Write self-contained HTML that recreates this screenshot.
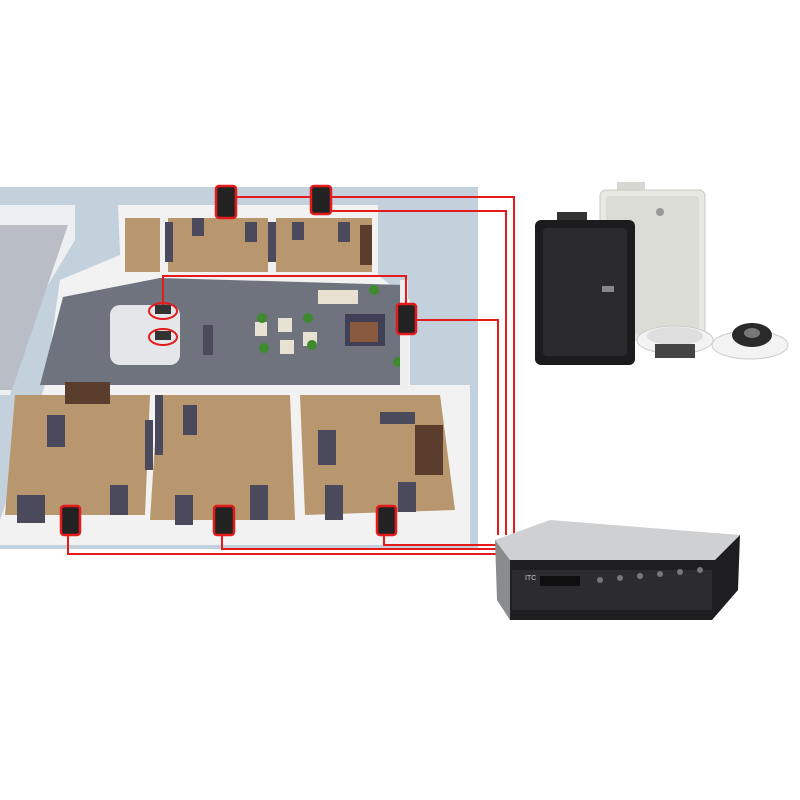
<!DOCTYPE html>
<html><head><meta charset="utf-8"><style>html,body{margin:0;padding:0;background:#fff}svg{display:block}</style></head>
<body>
<svg width="800" height="800" viewBox="0 0 800 800" xmlns="http://www.w3.org/2000/svg">
<rect width="800" height="800" fill="#fff"/>
<rect x="0" y="187" width="478" height="362" fill="#c3d1dc"/>
<polygon points="0,205 75,205 75,240 45,290 10,395 0,395" fill="#eeeff1"/>
<polygon points="0,225 68,225 12,390 0,390" fill="#b9bec6"/>
<polygon points="60,280 120,255 118,205 378,205 378,275 410,300 410,385 470,385 470,545 0,545 0,520 45,385" fill="#f2f2f2"/>
<polygon points="125,218 372,218 372,272 125,272" fill="#b8976f"/>
<rect x="160" y="218" width="8" height="54" fill="#f0f0f0"/>
<rect x="268" y="218" width="8" height="54" fill="#f0f0f0"/>
<polygon points="63,297 160,278 405,285 405,385 40,385" fill="#6f737e"/>
<polygon points="15,395 150,395 145,515 5,515" fill="#b8976f"/>
<polygon points="158,395 290,395 295,520 150,520" fill="#b8976f"/>
<polygon points="300,395 440,395 455,510 305,515" fill="#b8976f"/>
<g fill="#4b4a5c">
<rect x="65" y="382" width="45" height="22" fill="#5a3d2c"/>
<rect x="47" y="415" width="18" height="32"/><rect x="17" y="495" width="28" height="28"/><rect x="110" y="485" width="18" height="30"/>
<rect x="183" y="405" width="14" height="30"/><rect x="175" y="495" width="18" height="30"/><rect x="250" y="485" width="18" height="35"/>
<rect x="318" y="430" width="18" height="35"/><rect x="325" y="485" width="18" height="35"/><rect x="398" y="482" width="18" height="30"/>
<rect x="380" y="412" width="35" height="12"/><rect x="415" y="425" width="28" height="50" fill="#5a3d2c"/>
<rect x="145" y="420" width="8" height="50"/><rect x="155" y="395" width="8" height="60"/>
<rect x="192" y="218" width="12" height="18"/><rect x="245" y="222" width="12" height="20"/><rect x="292" y="222" width="12" height="18"/><rect x="338" y="222" width="12" height="20"/>
<rect x="165" y="222" width="8" height="40"/><rect x="268" y="222" width="8" height="40"/><rect x="360" y="225" width="12" height="40" fill="#5a3d2c"/>
<rect x="345" y="314" width="40" height="32" fill="#3f3f55"/><rect x="203" y="325" width="10" height="30"/>
</g>
<rect x="350" y="322" width="28" height="20" fill="#8a5a40"/>
<rect x="110" y="305" width="70" height="60" rx="10" fill="#e5e6ea"/>
<g fill="#e8e2d2"><rect x="318" y="290" width="40" height="14"/><rect x="255" y="322" width="12" height="14"/><rect x="278" y="318" width="14" height="14"/><rect x="280" y="340" width="14" height="14"/><rect x="303" y="332" width="14" height="14"/></g>
<g fill="#3f8a2e"><circle cx="262" cy="318" r="5"/><circle cx="308" cy="318" r="5"/><circle cx="264" cy="348" r="5"/><circle cx="312" cy="345" r="5"/><circle cx="374" cy="290" r="5"/><circle cx="398" cy="362" r="5"/></g>
<rect x="400" y="280" width="8" height="110" fill="#eee"/>
<g fill="none" stroke="#e51a1a" stroke-width="2">
<polyline points="236,197 514,197 514,535"/>
<polyline points="331,211 506,211 506,535"/>
<polyline points="416,320 498,320 498,535"/>
<polyline points="163,305 163,276 406,276 406,303"/>
<polyline points="68,535 68,554 496,554"/>
<polyline points="222,535 222,549 496,549"/>
<polyline points="384,535 384,545 496,545"/>
</g>
<g fill="none" stroke="#e51a1a" stroke-width="2"><ellipse cx="163" cy="311" rx="14" ry="8"/><ellipse cx="163" cy="337" rx="14" ry="8"/></g>
<g fill="#333"><rect x="155" y="305" width="16" height="9"/><rect x="155" y="331" width="16" height="9"/></g>
<g fill="#222" stroke="#e51a1a" stroke-width="2.5">
<rect x="216" y="186" width="20" height="32" rx="3"/><rect x="311" y="186" width="20" height="28" rx="3"/>
<rect x="397" y="304" width="19" height="30" rx="3"/>
<rect x="61" y="506" width="19" height="29" rx="3"/><rect x="214" y="506" width="20" height="29" rx="3"/><rect x="377" y="506" width="19" height="29" rx="3"/>
</g>
<rect x="617" y="182" width="28" height="12" fill="#d8d8d2"/>
<rect x="600" y="190" width="105" height="150" rx="6" fill="#e9e9e4" stroke="#c8c8c2"/>
<rect x="606" y="196" width="93" height="138" rx="4" fill="#dcdcd6"/>
<circle cx="660" cy="212" r="4" fill="#999"/>
<rect x="557" y="212" width="30" height="12" fill="#333"/>
<rect x="535" y="220" width="100" height="145" rx="6" fill="#1c1c1e"/>
<rect x="543" y="228" width="84" height="128" rx="4" fill="#2b2b2e"/>
<rect x="602" y="286" width="12" height="6" fill="#888"/>
<ellipse cx="675" cy="340" rx="38" ry="14" fill="#f3f3f3" stroke="#ccc"/>
<ellipse cx="675" cy="336" rx="28" ry="9" fill="#dedede"/>
<rect x="655" y="344" width="40" height="14" fill="#444"/>
<ellipse cx="750" cy="345" rx="38" ry="14" fill="#f3f3f3" stroke="#ccc"/>
<ellipse cx="752" cy="335" rx="20" ry="12" fill="#2a2a2a"/>
<ellipse cx="752" cy="333" rx="8" ry="5" fill="#777"/>
<polygon points="495,540 550,520 740,535 715,560 510,560" fill="#cfd0d2"/>
<polygon points="495,540 510,560 510,620 497,600" fill="#8a8b8e"/>
<polygon points="510,560 715,560 740,535 738,590 712,620 510,620" fill="#1e1e20"/>
<rect x="512" y="570" width="200" height="40" fill="#2c2c2e"/>
<rect x="540" y="576" width="40" height="10" fill="#0f0f10"/>
<g fill="#777"><circle cx="600" cy="580" r="3"/><circle cx="620" cy="578" r="3"/><circle cx="640" cy="576" r="3"/><circle cx="660" cy="574" r="3"/><circle cx="680" cy="572" r="3"/><circle cx="700" cy="570" r="3"/></g>
<text x="525" y="580" font-family="Liberation Sans, sans-serif" font-size="7" fill="#ccc">ITC</text>
</svg>
</body></html>
